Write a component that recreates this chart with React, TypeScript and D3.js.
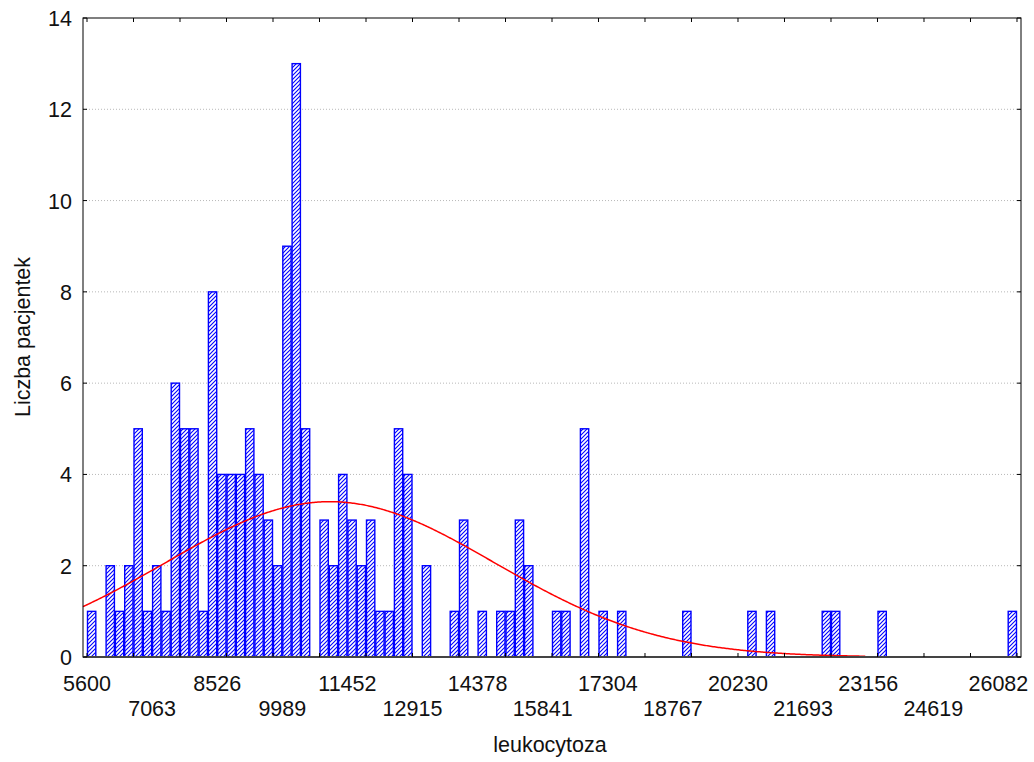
import React from "react";
import * as d3 from "d3";

// Histogram of leukocyte counts: bins of equal width starting at binStart.
const binStart = 5600;
const binWidth = 209;
const binCounts = [
  1, 0, 2, 1, 2, 5, 1, 2, 1, 6, 5, 5, 1, 8, 4, 4, 4, 5, 4, 3, 2, 9, 13, 5,
  0, 3, 2, 4, 3, 2, 3, 1, 1, 5, 4, 0, 2, 0, 0, 1, 3, 0, 1, 0, 1, 1, 3, 2,
  0, 0, 1, 1, 0, 5, 0, 1, 0, 1,
  0, 0, 0, 0, 0, 0, 1,
  0, 0, 0, 0, 0, 0, 1, 0, 1,
  0, 0, 0, 0, 0, 1, 1,
  0, 0, 0, 0, 1,
  0, 0, 0, 0, 0, 0, 0, 0, 0, 0, 0, 0, 0, 1,
];

const xTickLabels = [
  5600, 7063, 8526, 9989, 11452, 12915, 14378, 15841, 17304, 18767, 20230,
  21693, 23156, 24619, 26082,
];
const yTicks = [0, 2, 4, 6, 8, 10, 12, 14];

// Fitted normal curve parameters
const curveMean = 11060;
const curveSd = 3700;
const curveEnd = 23100;

const xDomain: [number, number] = [5510, 26590];
const minorTickStep = 5 * binWidth;

const FONT = "'Liberation Sans', Arial, sans-serif";

export default function App() {
  const L = 83, R = 1021, T = 18, B = 657;
  const x = d3.scaleLinear().domain(xDomain).range([L, R]);
  const y = d3.scaleLinear().domain([0, 14]).range([B, T]);

  const total = d3.sum(binCounts);
  const pdf = (v: number) =>
    Math.exp(-0.5 * ((v - curveMean) / curveSd) ** 2) / (curveSd * Math.sqrt(2 * Math.PI));
  const curvePts: [number, number][] = d3
    .range(xDomain[0], curveEnd + 1, 30)
    .map((v) => [v, total * binWidth * pdf(v)]);
  const line = d3
    .line<[number, number]>()
    .x((d) => x(d[0]))
    .y((d) => y(d[1]));

  const minorTicks = d3.range(0, 21).map((k) => binStart + k * minorTickStep);

  return (
    <svg
      width={1034}
      height={762}
      style={{ position: "absolute", left: 0, top: 0, background: "#fff" }}
      fontFamily={FONT}
    >
      <defs>
        <pattern id="hatch" patternUnits="userSpaceOnUse" width={4} height={4}>
          <rect width={4} height={4} fill="#fff" />
          <path d="M-1,1 l2,-2 M0,4 l4,-4 M3,5 l2,-2" stroke="#0000ff" strokeWidth={1.1} />
        </pattern>
      </defs>
      <rect x={0} y={0} width={1034} height={762} fill="#fff" />

      {/* horizontal grid */}
      {yTicks
        .filter((t) => t > 0 && t < 14)
        .map((t) => (
          <line
            key={"g" + t}
            x1={L}
            x2={R}
            y1={y(t)}
            y2={y(t)}
            stroke="#b8b8b8"
            strokeWidth={1}
            strokeDasharray="1 2"
          />
        ))}

      {/* bars */}
      {binCounts.map((c, i) => {
        if (c === 0) return null;
        const x0 = x(binStart + i * binWidth);
        const x1 = x(binStart + (i + 1) * binWidth);
        return (
          <rect
            key={"b" + i}
            x={x0 + 0.5}
            y={y(c)}
            width={x1 - x0 - 1}
            height={y(0) - y(c)}
            fill="url(#hatch)"
            stroke="#0000ff"
            strokeWidth={1.4}
          />
        );
      })}

      {/* fitted normal curve */}
      <path d={line(curvePts) || ""} fill="none" stroke="#ff0000" strokeWidth={1.5} />

      {/* frame */}
      <rect x={L} y={T} width={R - L} height={B - T} fill="none" stroke="#000" strokeWidth={1} />
      <line x1={L} x2={R} y1={B} y2={B} stroke="#444" strokeWidth={2} />

      {/* x ticks, bottom and top */}
      {minorTicks.map((v) => (
        <g key={"xt" + v}>
          <line x1={x(v)} x2={x(v)} y1={B} y2={B - 4} stroke="#000" />
          <line x1={x(v)} x2={x(v)} y1={T} y2={T + 4} stroke="#000" />
        </g>
      ))}

      {/* y ticks, left and right */}
      {yTicks.map((t) => (
        <g key={"yt" + t}>
          <line x1={L} x2={L + 4} y1={y(t)} y2={y(t)} stroke="#000" />
          <line x1={R} x2={R - 4} y1={y(t)} y2={y(t)} stroke="#000" />
          <text x={72} y={y(t) + 8} textAnchor="end" fontSize={21.5} fill="#111">
            {t}
          </text>
        </g>
      ))}

      {/* x tick labels, staggered in two rows */}
      {xTickLabels.map((v, i) => (
        <text
          key={"xl" + v}
          x={x(v)}
          y={i % 2 === 0 ? 691 : 716}
          textAnchor="middle"
          fontSize={21.5}
          fill="#111"
        >
          {v}
        </text>
      ))}

      <text x={550} y={752} textAnchor="middle" fontSize={21.5} fill="#111">
        leukocytoza
      </text>
      <text
        transform={`translate(30,${337}) rotate(-90)`}
        textAnchor="middle"
        fontSize={21.5}
        fill="#111"
      >
        Liczba pacjentek
      </text>
    </svg>
  );
}
